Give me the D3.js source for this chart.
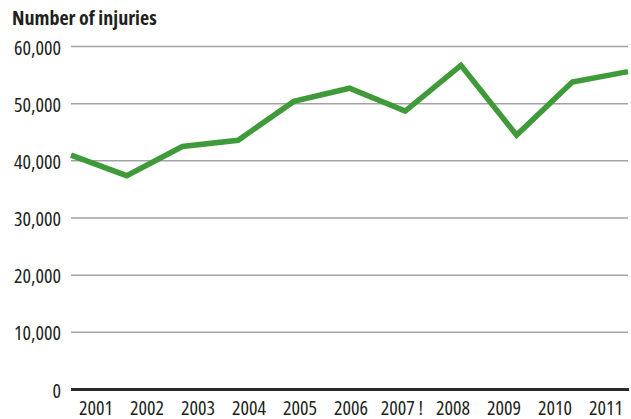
<!DOCTYPE html>
<html>
<head>
<meta charset="utf-8">
<script src="https://cdn.jsdelivr.net/npm/d3@7"></script>
<style>
  html, body { margin: 0; padding: 0; background: #ffffff; }
  svg { display: block; }
  text { font-family: "Open Sans", sans-serif; font-stretch: condensed; fill: #231f20; }
</style>
</head>
<body>
<svg id="chart" width="631" height="419"></svg>
<script>
const years = ["2001","2002","2003","2004","2005","2006","2007","2008","2009","2010","2011"];
const yearLabels = ["2001","2002","2003","2004","2005","2006","2007 !","2008","2009","2010","2011"];
const injuries = [41000, 37400, 42500, 43600, 50400, 52700, 48700, 56700, 44500, 53800, 55600];
const yTicks = [0, 10000, 20000, 30000, 40000, 50000, 60000];
const title = "Number of injuries";

const svg = d3.select("#chart");

const x = d3.scalePoint().domain(years).range([71, 628]);
const xLabel = d3.scaleBand().domain(years).range([70.5, 631.5]);
const y = d3.scaleLinear().domain([0, 60000]).range([389.5, 46.5]);

// title
svg.append("text")
  .attr("x", 12).attr("y", 25)
  .style("font-size", "20px").style("font-weight", "bold")
  .text(title);

// gridlines
svg.append("g").selectAll("line")
  .data(yTicks.filter(d => d !== 0))
  .join("line")
  .attr("x1", 71).attr("x2", 628)
  .attr("y1", d => y(d)).attr("y2", d => y(d))
  .attr("stroke", "#a3a3a3").attr("stroke-width", 1.5);

// y tick labels
const fmt = d3.format(",");
svg.append("g").selectAll("text")
  .data(yTicks)
  .join("text")
  .attr("x", 61).attr("y", d => y(d) + 8)
  .attr("text-anchor", "end")
  .style("font-size", "20px")
  .text(d => fmt(d));

// zero line
svg.append("line")
  .attr("x1", 71).attr("x2", 629)
  .attr("y1", y(0)).attr("y2", y(0))
  .attr("stroke", "#2b2b2b").attr("stroke-width", 3);

// x labels
svg.append("g").selectAll("text")
  .data(years)
  .join("text")
  .attr("x", d => xLabel(d) + xLabel.bandwidth() / 2)
  .attr("y", 415)
  .attr("text-anchor", "middle")
  .style("font-size", "20px")
  .text((d, i) => yearLabels[i]);

// data line
const line = d3.line()
  .x((d, i) => x(years[i]))
  .y(d => y(d));

svg.append("path")
  .datum(injuries)
  .attr("d", line)
  .attr("fill", "none")
  .attr("stroke", "#3f9b3a")
  .attr("stroke-width", 5.5)
  .attr("stroke-linejoin", "miter")
  .attr("stroke-linecap", "butt");
</script>
</body>
</html>
